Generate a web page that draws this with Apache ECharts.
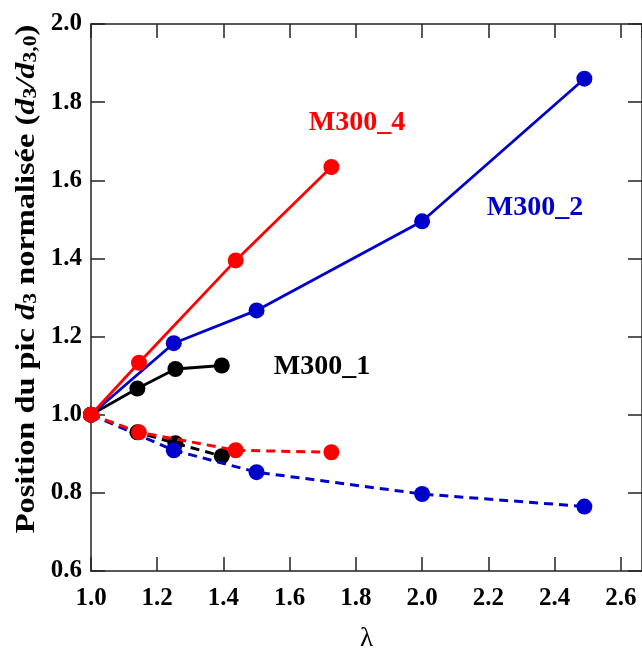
<!DOCTYPE html>
<html>
<head>
<meta charset="utf-8">
<script src="https://cdn.jsdelivr.net/npm/echarts@6/dist/echarts.min.js"></script>
<style>
html,body{margin:0;padding:0;background:#fff;}
#chart{width:642px;height:657px;}
</style>
</head>
<body>
<div id="chart"></div>
<script>
// ---- data ----
const lambdaM300_4 = [1.0, 1.145, 1.437, 1.726];
const solidM300_4  = [1.0, 1.133, 1.395, 1.634];
const dashedM300_4 = [1.0, 0.955, 0.909, 0.904];

const lambdaM300_2 = [1.0, 1.25, 1.5, 2.0, 2.49];
const solidM300_2  = [1.0, 1.183, 1.267, 1.495, 1.860];
const dashedM300_2 = [1.0, 0.909, 0.853, 0.797, 0.765];

const lambdaM300_1 = [1.0, 1.14, 1.255, 1.395];
const solidM300_1  = [1.0, 1.067, 1.117, 1.126];
const dashedM300_1 = [1.0, 0.955, 0.927, 0.894];

const seriesNames = ['M300_1', 'M300_2', 'M300_4'];
const xAxisTitle = 'λ';

const FONT = '"Liberation Serif", "DejaVu Serif", serif';
const RED = '#ff0000', BLUE = '#0000cc', BLACK = '#000000';

function pairs(xs, ys) { return xs.map((x, i) => [x, ys[i]]); }

function lineSeries(name, xs, ys, color, dashed, z) {
  return {
    name: name,
    type: 'line',
    data: pairs(xs, ys),
    symbol: 'circle',
    symbolSize: 16,
    z: z,
    itemStyle: { color: color },
    lineStyle: dashed ? { color: color, width: 3, type: [9, 6] } : { color: color, width: 2.8 },
    emphasis: { disabled: true }
  };
}

const axisLineStyle = { color: '#222', width: 1.5 };
const chart = echarts.init(document.getElementById('chart'), null, { renderer: 'canvas' });

chart.setOption({
  animation: false,
  backgroundColor: '#fff',
  grid: { left: 91, right: -3, top: 24, bottom: 77, containLabel: false },
  xAxis: [{
    type: 'value', min: 1.0, max: 2.664, interval: 0.2, position: 'bottom',
    name: xAxisTitle, nameLocation: 'middle', nameGap: 54,
    nameTextStyle: { fontFamily: FONT, fontSize: 27, color: '#000' },
    axisLine: { show: true, lineStyle: axisLineStyle },
    axisTick: { show: true, inside: true, length: 14, lineStyle: axisLineStyle },
    axisLabel: { show: true, showMaxLabel: false, margin: 15, fontFamily: FONT, fontWeight: 'bold', fontSize: 25, color: '#000',
      formatter: v => v.toFixed(1) },
    splitLine: { show: false }
  }, {
    type: 'value', min: 1.0, max: 2.664, interval: 0.2, position: 'top',
    axisLine: { show: true, lineStyle: axisLineStyle },
    axisTick: { show: true, inside: true, length: 14, lineStyle: axisLineStyle },
    axisLabel: { show: false },
    splitLine: { show: false }
  }],
  yAxis: [{
    type: 'value', min: 0.6, max: 2.0, interval: 0.2, position: 'left',
    axisLine: { show: true, lineStyle: axisLineStyle },
    axisTick: { show: true, inside: true, length: 14, lineStyle: axisLineStyle },
    axisLabel: { show: true, margin: 9, fontFamily: FONT, fontWeight: 'bold', fontSize: 25, color: '#000',
      formatter: v => v.toFixed(1) },
    splitLine: { show: false }
  }, {
    type: 'value', min: 0.6, max: 2.0, interval: 0.2, position: 'right',
    axisLine: { show: true, lineStyle: axisLineStyle },
    axisTick: { show: true, inside: true, length: 14, lineStyle: axisLineStyle },
    axisLabel: { show: false },
    splitLine: { show: false }
  }],
  series: [
    lineSeries(seriesNames[0], lambdaM300_1, solidM300_1, BLACK, false, 2),
    lineSeries(seriesNames[0], lambdaM300_1, dashedM300_1, BLACK, true, 2),
    lineSeries(seriesNames[1], lambdaM300_2, solidM300_2, BLUE, false, 3),
    lineSeries(seriesNames[1], lambdaM300_2, dashedM300_2, BLUE, true, 3),
    lineSeries(seriesNames[2], lambdaM300_4, solidM300_4, RED, false, 4),
    lineSeries(seriesNames[2], lambdaM300_4, dashedM300_4, RED, true, 4)
  ],
  graphic: [
    {
      type: 'text', x: 27, y: 279, rotation: Math.PI / 2, scaleX: 1.2, scaleY: 1,
      style: {
        text: 'Position du pic {i|d}{s|3} normalisée ({i|d}{s|3}{i|/d}{s|3,0})',
        fontFamily: FONT, fontWeight: 'bold', fontSize: 27, fill: '#000',
        align: 'center', verticalAlign: 'middle',
        rich: {
          i: { fontFamily: FONT, fontWeight: 'bold', fontStyle: 'italic', fontSize: 27, fill: '#000' },
          s: { fontFamily: FONT, fontWeight: 'bold', fontSize: 18, fill: '#000', verticalAlign: 'bottom', lineHeight: 18 }
        }
      }
    },
    { type: 'text', x: 357, y: 123, style: { text: seriesNames[2], fontFamily: FONT, fontWeight: 'bold', fontSize: 28, fill: RED, align: 'center', verticalAlign: 'middle' } },
    { type: 'text', x: 535, y: 208, style: { text: seriesNames[1], fontFamily: FONT, fontWeight: 'bold', fontSize: 28, fill: BLUE, align: 'center', verticalAlign: 'middle' } },
    { type: 'text', x: 322, y: 367, style: { text: seriesNames[0], fontFamily: FONT, fontWeight: 'bold', fontSize: 28, fill: BLACK, align: 'center', verticalAlign: 'middle' } }
  ]
});
</script>
</body>
</html>
